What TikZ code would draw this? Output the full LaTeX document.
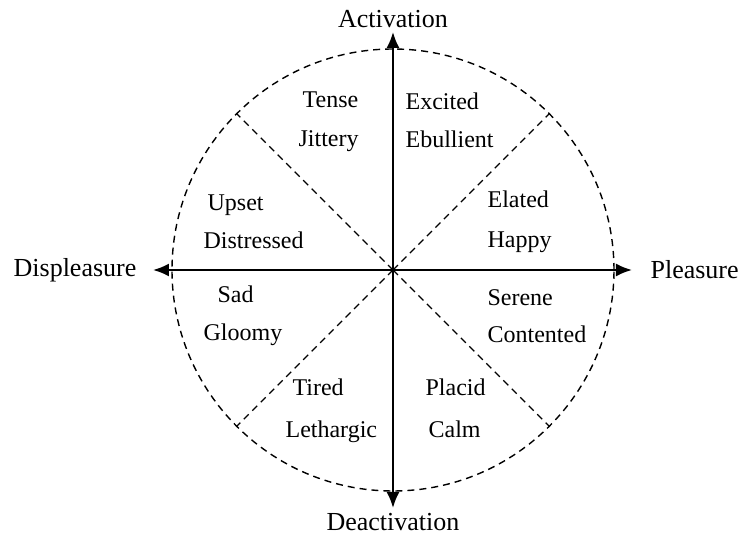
\documentclass[tikz,border=0pt]{standalone}
\usepackage{fontspec}
\setmainfont{Liberation Serif}
\usepackage{tikz}
\usetikzlibrary{positioning, arrows.meta}

\begin{document}
\begin{tikzpicture}[x=0.5pt,y=0.5pt,>={Latex[length=8pt,width=6.5pt]},semithick]
\tikzstyle{axis}=[<->,line width=1pt]
\tikzstyle{rim}=[dashed,dash pattern=on 3.5pt off 2.5pt,line width=0.7pt]
\tikzstyle{pole}=[font=\fontsize{13}{15}\selectfont,inner sep=0pt]
\tikzstyle{mood}=[font=\fontsize{12}{14}\selectfont,inner sep=0pt,anchor=base west]
\useasboundingbox (-393,-265) rectangle (347,270);

\coordinate (O) at (0,0);
\coordinate (W) at (-240,0);
\coordinate (E) at (239,0);
\coordinate (N) at (0,238);
\coordinate (S) at (0,-238);

% circle and sector lines
\draw[rim] (O) circle (221);
\foreach \a in {45,135,225,315}
  \draw[rim] (O) -- (\a:221);

% axes
\draw[axis] (W) -- (E);
\draw[axis] (S) -- (N);

\node[pole] (act) [above=2pt of N] {Activation};
\node[pole] (deact) [below=2.5pt of S] {Deactivation};
\node[pole] (pleas) [right=9pt of E] {Pleasure};
\node[pole] (displ) [left=8pt of W] {Displeasure};

% states
\node[mood] (tense) at (-91,162) {Tense};
\node[mood] (jittery) at (-95,123) {Jittery};
\node[mood] (excited) at (12,160) {Excited};
\node[mood] (ebullient) at (12,122) {Ebullient};
\node[mood] (upset) at (-186,59) {Upset};
\node[mood] (distressed) at (-190,21) {Distressed};
\node[mood] (elated) at (94,62) {Elated};
\node[mood] (happy) at (94,22) {Happy};
\node[mood] (sad) at (-176,-33) {Sad};
\node[mood] (gloomy) at (-190,-71) {Gloomy};
\node[mood] (serene) at (94,-36) {Serene};
\node[mood] (contented) at (94,-73) {Contented};
\node[mood] (tired) at (-101,-126) {Tired};
\node[mood] (lethargic) at (-108,-168) {Lethargic};
\node[mood] (placid) at (32,-126) {Placid};
\node[mood] (calm) at (35,-168) {Calm};
\end{tikzpicture}
\end{document}
